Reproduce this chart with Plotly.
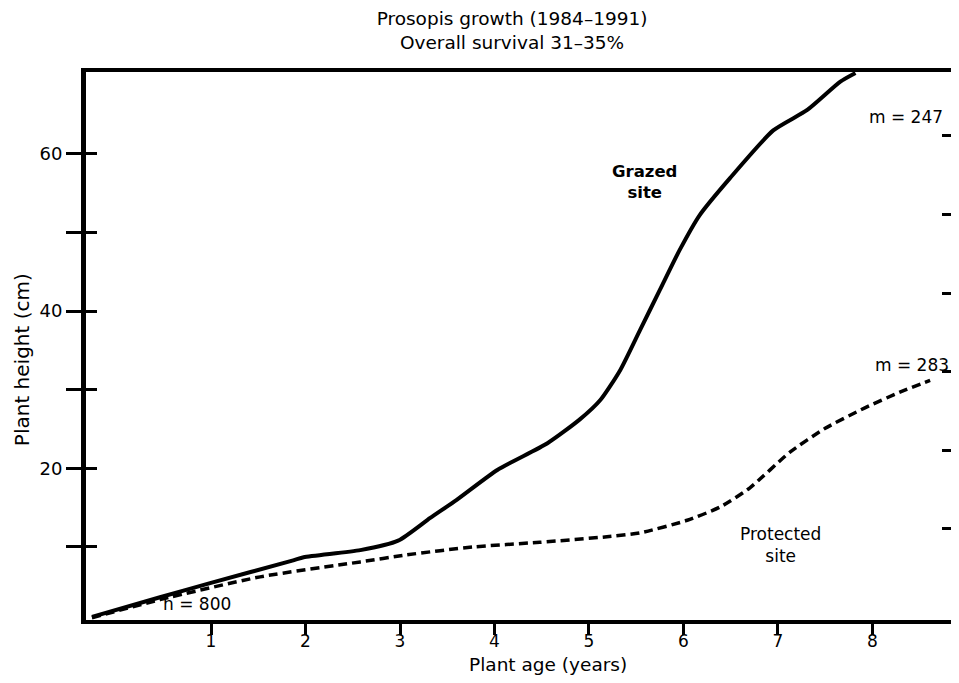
import plotly.graph_objects as go

# Data
grazed_x = [-0.26, 0.46, 0.99, 1.87, 1.98, 2.58, 2.98, 3.32, 3.60, 4.03, 4.56, 4.90, 5.12, 5.33, 5.54, 5.75, 5.96, 6.17, 6.49, 6.95, 7.31, 7.66, 7.82]
grazed_y = [1.1, 3.6, 5.4, 8.3, 8.7, 9.6, 10.8, 13.7, 16.0, 19.8, 23.2, 26.2, 28.7, 32.5, 37.6, 42.7, 47.8, 52.2, 56.9, 63.0, 65.6, 69.2, 70.3]

protected_x = [-0.26, 0.46, 1.52, 2.58, 3.07, 3.77, 4.48, 5.19, 5.54, 6.04, 6.39, 6.70, 7.13, 7.50, 7.92, 8.29, 8.61]
protected_y = [1.0, 3.3, 6.2, 8.1, 9.0, 10.0, 10.6, 11.3, 11.8, 13.4, 15.1, 17.5, 22.1, 25.1, 27.7, 29.7, 31.2]

x_ticks = [1, 2, 3, 4, 5, 6, 7, 8]
y_ticks = [10, 20, 30, 40, 50, 60]
y_tick_labels = ["", "20", "", "40", "", "60"]
right_ticks = [12.3, 22.3, 32.3, 42.3, 52.3, 62.3]

FONT = "DejaVu Sans, Liberation Sans, Arial, sans-serif"

fig = go.Figure()
fig.add_trace(go.Scatter(x=grazed_x, y=grazed_y, mode="lines", name="Grazed site",
                         line=dict(color="black", width=4, shape="spline", smoothing=0.6)))
fig.add_trace(go.Scatter(x=protected_x, y=protected_y, mode="lines", name="Protected site",
                         line=dict(color="black", width=3.5, dash="9px,5px", shape="spline", smoothing=0.6)))
# invisible traces to activate the overlay axes
fig.add_trace(go.Scatter(x=[None], y=[None], yaxis="y2", showlegend=False, hoverinfo="skip"))
fig.add_trace(go.Scatter(x=[None], y=[None], yaxis="y3", showlegend=False, hoverinfo="skip"))

yr = [0.71, 70.43]
xr = [-0.323, 8.831]

fig.update_layout(
    width=943, height=667,
    margin=dict(l=78, r=0, t=64, b=55, autoexpand=False),
    paper_bgcolor="white", plot_bgcolor="white",
    showlegend=False,
    font=dict(family=FONT, color="black", size=17),
    title=dict(text="Prosopis growth (1984–1991)<br>Overall survival 31–35%",
               x=0.5345, xref="container", xanchor="center",
               y=1 - 17 / 667, yref="container", yanchor="middle",
               font=dict(family=FONT, size=18.5, color="black")),
    xaxis=dict(range=xr, showgrid=False, zeroline=False, automargin=False,
               showline=True, linecolor="black", linewidth=4, mirror=True,
               tickvals=x_ticks, ticks="outside", ticklen=11, tickwidth=3, tickcolor="black",
               ticklabelstandoff=-8,
               tickfont=dict(size=17)),
    yaxis=dict(range=yr, showgrid=False, zeroline=False, automargin=False,
               showline=True, linecolor="black", linewidth=5,
               tickvals=y_ticks, ticktext=y_tick_labels,
               ticks="outside", ticklen=15, tickwidth=3, tickcolor="black",
               ticklabelstandoff=0,
               tickfont=dict(size=18)),
    yaxis2=dict(range=yr, overlaying="y", side="right", anchor="x", showgrid=False, zeroline=False,
                automargin=False, showline=False, tickvals=right_ticks, showticklabels=False,
                ticks="inside", ticklen=9, tickwidth=3, tickcolor="black"),
    yaxis3=dict(range=yr, overlaying="y", side="left", anchor="x", showgrid=False, zeroline=False,
                automargin=False, showline=False, tickvals=y_ticks, showticklabels=False,
                ticks="inside", ticklen=11, tickwidth=3, tickcolor="black"),
)

# axis titles
fig.add_annotation(text="Plant age (years)", xref="paper", yref="paper", x=0.534, y=-0.0803,
                   xanchor="center", yanchor="middle",
                   showarrow=False, font=dict(family=FONT, size=18.5, color="black"))
fig.add_annotation(text="Plant height (cm)", xref="paper", yref="paper", x=-0.074, y=0.476,
                   xanchor="center", yanchor="middle",
                   textangle=-90, showarrow=False, font=dict(family=FONT, size=20, color="black"))

annotations = [
    dict(x=5.59, y=56.4, text="<b>Grazed<br>site</b>", size=16.5),
    dict(x=7.03, y=10.3, text="Protected<br>site", size=17),
    dict(x=8.36, y=64.7, text="m = 247", size=17),
    dict(x=8.42, y=33.2, text="m = 283", size=17),
    dict(x=0.85, y=2.7, text="n = 800", size=17),
]
for a in annotations:
    fig.add_annotation(x=a["x"], y=a["y"], xref="x", yref="y", text=a["text"],
                       showarrow=False, font=dict(family=FONT, size=a["size"], color="black"))

fig.write_html("out.html")
